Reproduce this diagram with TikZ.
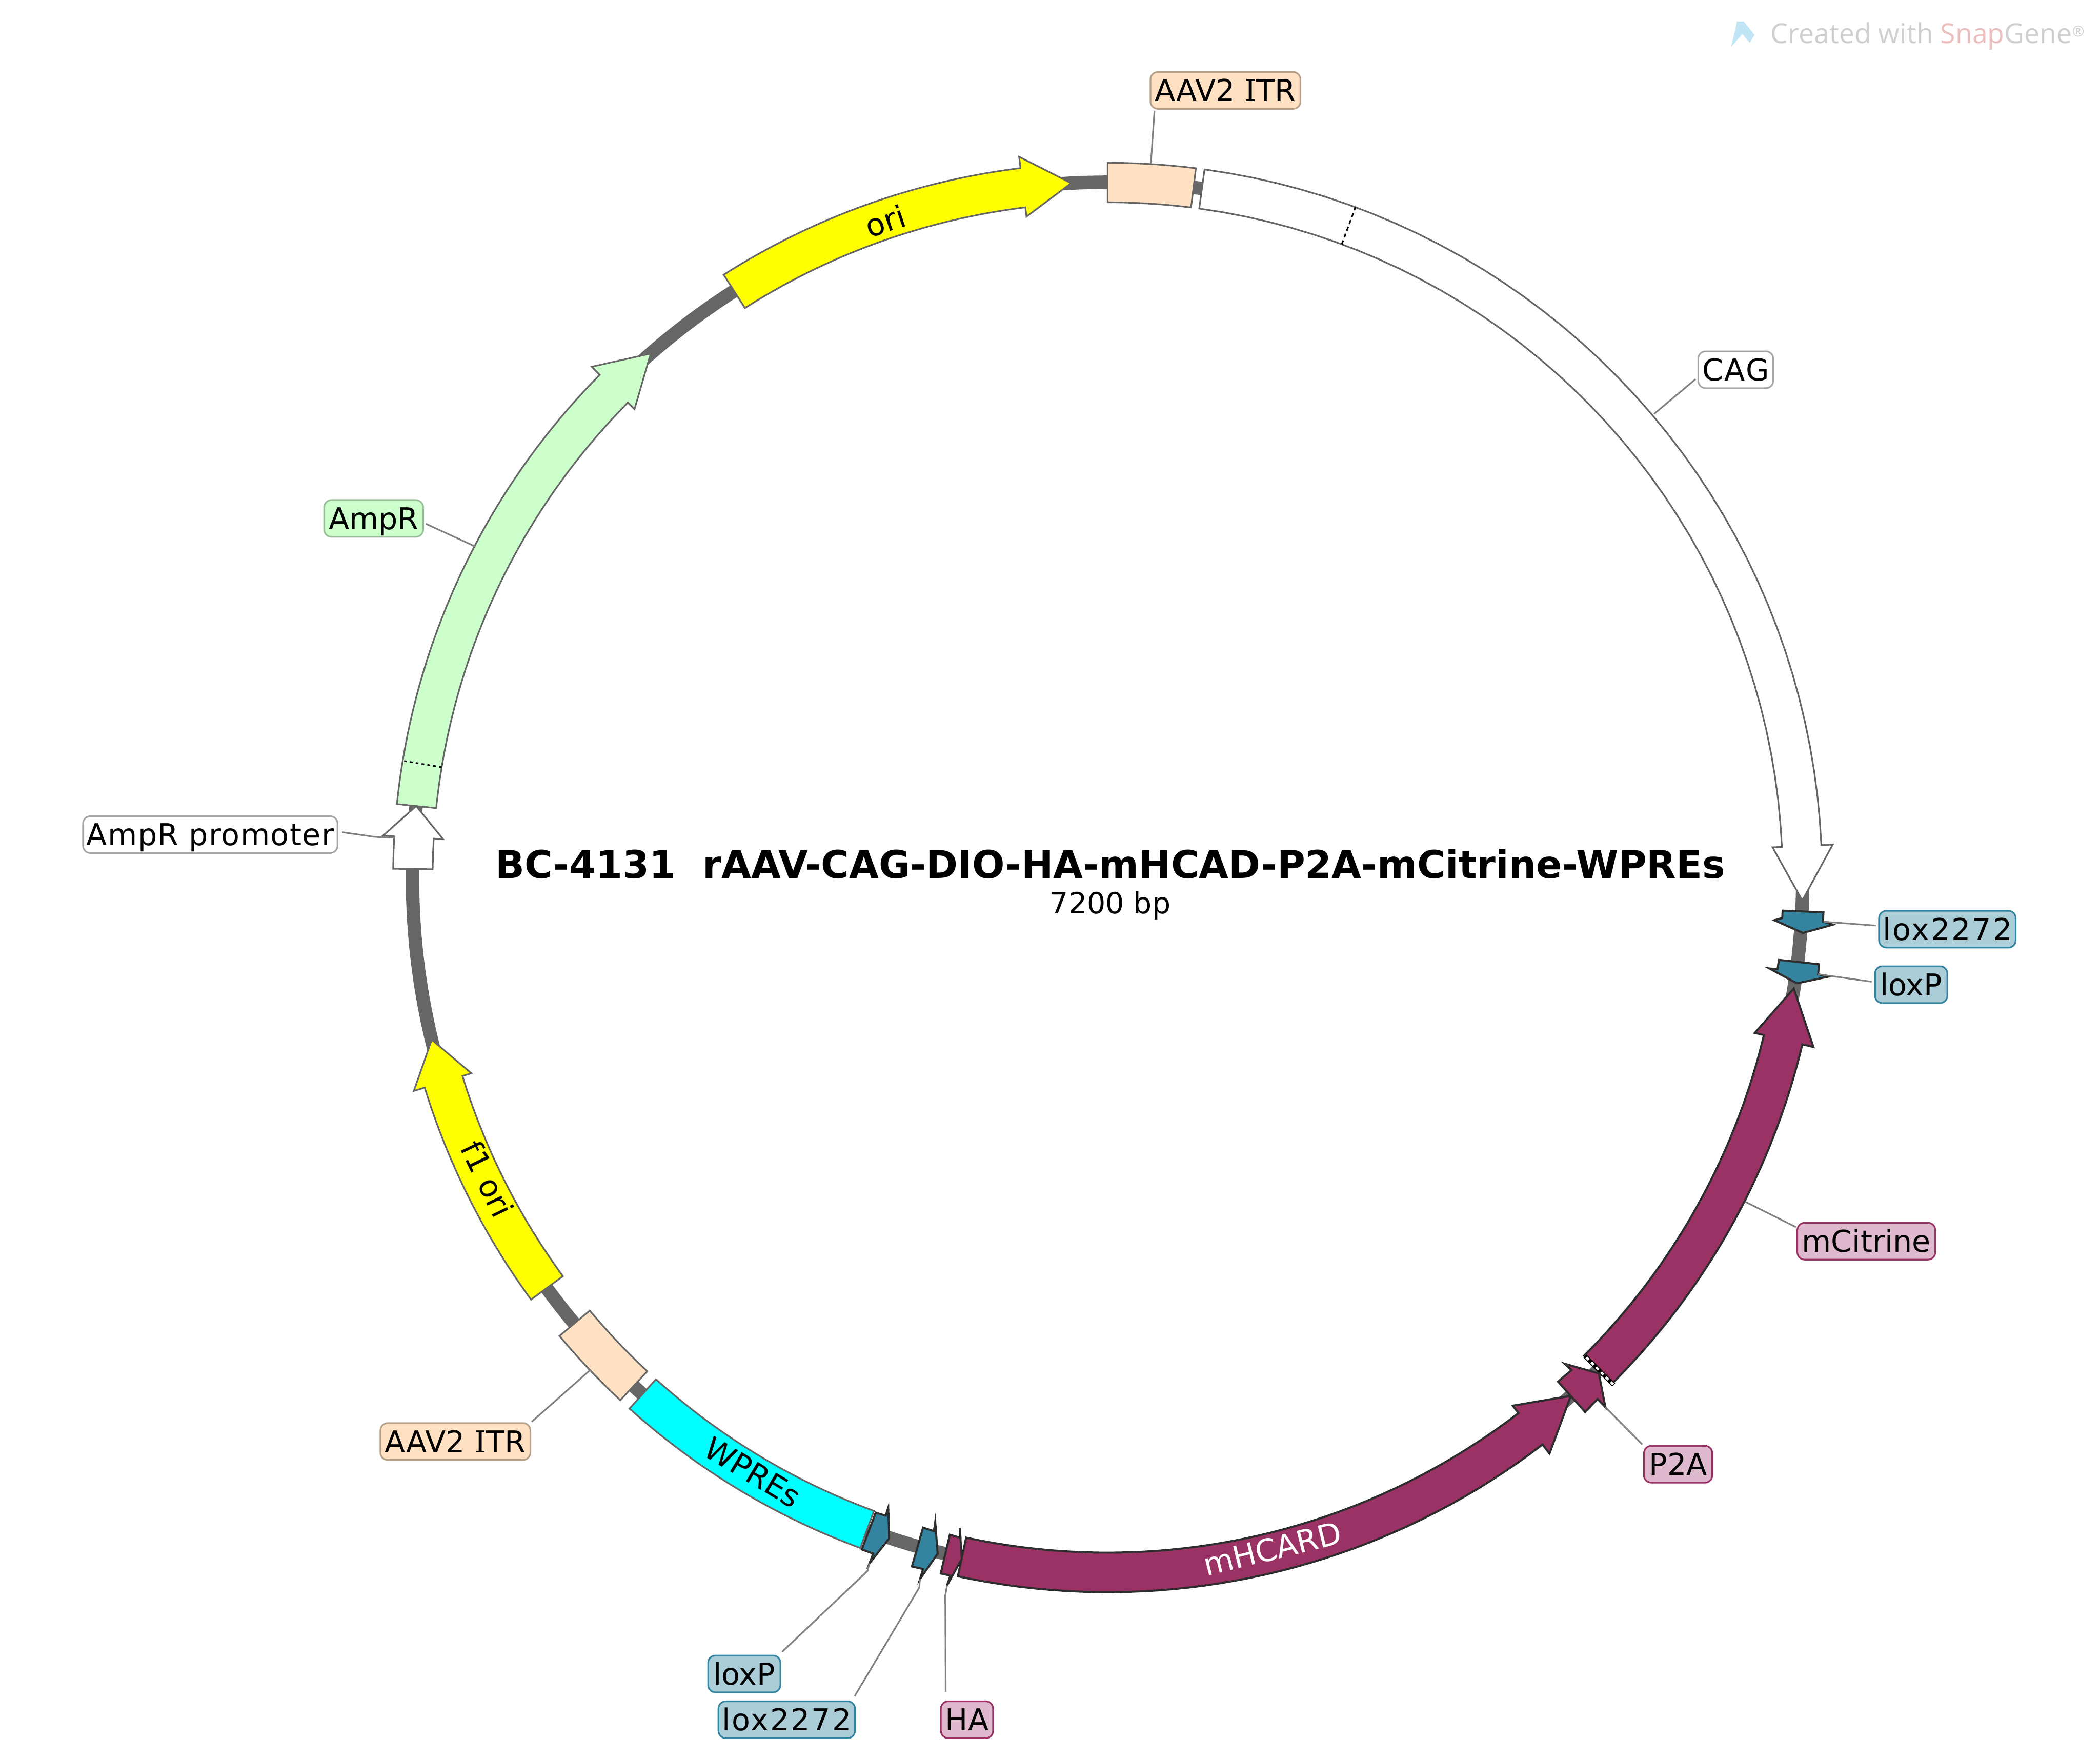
\documentclass[tikz,border=0pt]{standalone}
\usepackage{fontspec}
\setmainfont{DejaVu Sans}
\newfontfamily\serifI{DejaVu Serif}
\newfontfamily\wmfont{Open Sans}
\definecolor{bbgray}{HTML}{666666}
\definecolor{edgegray}{HTML}{666666}
\definecolor{edgedark}{HTML}{2D2D2D}
\definecolor{leadgray}{HTML}{808080}
\definecolor{plum}{HTML}{9B3265}
\definecolor{plumlt}{HTML}{DFB9CD}
\definecolor{teal}{HTML}{34839F}
\definecolor{teallt}{HTML}{ABCDD7}
\definecolor{itr}{HTML}{FFE2C4}
\definecolor{itrb}{HTML}{B8A088}
\definecolor{amp}{HTML}{CCFFCC}
\definecolor{ampb}{HTML}{99BF99}
\definecolor{fullyellow}{HTML}{FFFF00}
\definecolor{fullcyan}{HTML}{00FFFF}
\definecolor{logoblue}{HTML}{C0E6F5}
\definecolor{wmgray}{HTML}{CFCFCF}
\definecolor{wmred}{HTML}{EBBDBD}
\newcommand{\rout}{533.5}
\newcommand{\rin}{504}
\newcommand{\rmid}{519}
\newcommand{\hout}{542}
\newcommand{\hin}{497}
% style, start angle, base of head, tip
\newcommand{\farrow}[4]{\draw[#1] plot[domain=#2:#3,samples=41] (\x:\rout) -- (#3:\hout) -- (#4:\rmid) -- (#3:\hin) -- plot[domain=#3:#2,samples=41] (\x:\rin) -- cycle;}
\newcommand{\fseg}[3]{\draw[#1] plot[domain=#2:#3,samples=41] (\x:\rout) -- plot[domain=#3:#2,samples=41] (\x:\rin) -- cycle;}
\newcommand{\spaced}[2]{{\addfontfeature{LetterSpace=#1}#2}}
\tikzset{
  feat/.style={draw=edgegray,line width=1.2pt,line join=miter,miter limit=10},
  featdark/.style={draw=edgedark,line width=1.5pt,line join=miter,miter limit=10},
  leader/.style={draw=leadgray,line width=1.2pt},
  lab/.style={rounded corners=5.5pt,line width=1.2pt,inner sep=0pt,font=\fontsize{22.5}{26}\selectfont,text=black,text height=19.5pt,text depth=3.2pt,align=center,minimum height=27.5pt},
  labteal/.style={lab,draw=teal,fill=teallt},
  labplum/.style={lab,draw=plum,fill=plumlt},
  labitr/.style={lab,draw=itrb,fill=itr},
  ontrack/.style={font=\fontsize{23}{26}\selectfont,inner sep=0pt},
}
\begin{document}
\begin{tikzpicture}[x=1pt,y=-1pt]
\path[fill=white,use as bounding box] (0,0) rectangle (1568,1312);
% watermark
\fill[fill=logoblue] (1297,16) -- (1292.6,35) -- (1301,25.3) -- (1306.5,32) -- (1310,26) -- (1302,16) -- cycle;
\node[font=\wmfont\fontsize{20.5}{24}\selectfont,text=wmgray,inner sep=0pt,anchor=west] (wm) at (1322,27) {Created with \textcolor{wmred}{Snap}Gene\raisebox{5pt}{\fontsize{11}{12}\selectfont®}};
% circular map
\begin{scope}[shift={(827,655)},yscale=-1]
\draw[bbgray,line width=10pt] (0,0) circle[radius=519];
\farrow{feat,fill=white}{82.2}{2.6}{-1.9}
\draw[black,line width=1.2pt,dash pattern=on 3pt off 2.4pt] (69.7:\rin) -- (69.7:\rout);
\fseg{feat,fill=itr}{90}{82.9}
\farrow{feat,fill=fullyellow}{122.5}{97}{93}
\farrow{feat,fill=amp}{174.1}{135.3}{131.1}
\draw[black,line width=1.2pt,dash pattern=on 2pt off 2.4pt] (170.6:\rin) -- (170.6:\rout);
\farrow{feat,fill=white}{179.3}{176.7}{174.1}
\farrow{feat,fill=fullyellow}{216.2}{197.1}{193.5}
\fseg{feat,fill=itr}{219.9}{227}
\fseg{feat,fill=fullcyan}{228}{249.75}
\farrow{featdark,fill=plum}{257.9}{307.5}{311.8}
\farrow{featdark,fill=plum}{314.9}{346.5}{350.8}
\end{scope}
% start edge of mCitrine
\draw[black,line width=3.2pt] (1183.4,1012.2) -- (1204.9,1033.8);
\draw[white,line width=1.8pt,dash pattern=on 2.6pt off 2.6pt] (1184.4,1013.2) -- (1204.9,1033.8);
% small features
\draw[featdark,fill=plum] (1168.3,1018) -- (1173.4,1022.7) -- (1163.3,1031.3) -- (1183.5,1053.9) -- (1192.9,1044.3) -- (1198.7,1050.4) -- (1193.8,1025.2) -- cycle;
\draw[featdark,fill=teal] (643.5,1156.6) -- (653.9,1129.1) -- (661.3,1131.4) -- (663.2,1125.3) -- (663.9,1148.2) -- (649.2,1167) -- (652,1159.7) -- cycle;
\draw[featdark,fill=teal] (680.9,1169.3) -- (689.2,1140.3) -- (697.3,1142.9) -- (698.3,1136) -- (700.1,1159.7) -- (686.9,1178.8) -- (689.2,1171.2) -- cycle;
\draw[featdark,fill=plum] (702.4,1174.5) -- (709.2,1145.6) -- (717.2,1147.9) -- (716.6,1140.6) -- (718.1,1163.5) -- (707.1,1183.4) -- (709.6,1176.1) -- cycle;
\draw[featdark,fill=teal] (1331,679.7) -- (1361.5,681) -- (1361.1,687.8) -- (1368.6,690.2) -- (1346.2,696.4) -- (1324.8,686.9) -- (1330.7,685.3) -- cycle;
\draw[featdark,fill=teal] (1328.2,716.5) -- (1358.2,719.8) -- (1357.5,727.2) -- (1364.9,729.1) -- (1341.7,734) -- (1321.1,722.9) -- (1327.2,723.5) -- cycle;
% labels on the features
\node[ontrack,rotate=18.7] (tori) at (661,165) {ori};
\node[ontrack,rotate=-64.2] (tf1) at (364,880) {f1 ori};
\node[ontrack,rotate=-31] (twpre) at (562,1099) {WPREs};
\node[ontrack,rotate=13.8,text=white] (tcard) at (950,1156) {mHCARD};
% title
\node[font=\bfseries\fontsize{28.6}{32}\selectfont,inner sep=0pt] (title) at (829,645) {BC-4131\ \ rAAV-CAG-DIO-HA-mHCAD-P2A-mCitrine-WPREs};
\node[font=\fontsize{21.8}{26}\selectfont,inner sep=0pt] (bp) at (829,676) {7200 bp};
% callout labels
\node[labitr,minimum width=112pt] (itrtop) at (915,67.5) {AAV2 {\serifI I}TR};
\node[lab,draw=black!35,fill=white,minimum width=56pt] (cag) at (1296,276) {\spaced{4.4}{CAG}};
\node[lab,draw=ampb,fill=amp,minimum width=74pt] (ampr) at (279,387) {AmpR};
\node[lab,draw=black!35,fill=white,minimum width=190pt] (ampp) at (157,623) {\spaced{2.4}{AmpR promoter}};
\node[labteal,minimum width=102pt] (lox1) at (1454,693.6) {\spaced{5}{lox2272}};
\node[labteal,minimum width=54pt] (lp1) at (1427,735) {loxP};
\node[labplum,minimum width=103pt] (mcit) at (1393.5,926.5) {mCitrine};
\node[labplum,minimum width=51pt] (p2a) at (1253,1093) {P2A};
\node[labplum,minimum width=39pt] (ha) at (722,1283.7) {HA};
\node[labteal,minimum width=102pt] (lox2) at (587.4,1283.7) {\spaced{5}{lox2272}};
\node[labteal,minimum width=54pt] (lp2) at (555.7,1249.5) {loxP};
\node[labitr,minimum width=112pt] (itrlow) at (340,1076) {AAV2 {\serifI I}TR};
% leader end points
\coordinate (a1) at (862,82.6); \coordinate (a2) at (859.3,122);
\coordinate (c1) at (1266,283); \coordinate (c2) at (1235,309);
\coordinate (r1) at (318,391); \coordinate (r2) at (355,408);
\coordinate (p1) at (255.4,621.2); \coordinate (p2) at (280,624.7); \coordinate (p3) at (295,625.4);
\coordinate (x1) at (1400.7,690.9); \coordinate (x2) at (1361.6,688);
\coordinate (y1) at (1397.5,732.8); \coordinate (y2) at (1357.5,727.2);
\coordinate (m1) at (1341,916); \coordinate (m2) at (1303,897);
\coordinate (q1) at (1226.2,1078.2); \coordinate (q2) at (1198.7,1050.4);
\coordinate (h1) at (706.1,1262.8); \coordinate (h2) at (705.8,1191); \coordinate (h3) at (707.1,1183.4);
\coordinate (u1) at (638.2,1266); \coordinate (u2) at (686.4,1185); \coordinate (u3) at (686.9,1178.8);
\coordinate (v1) at (584,1233); \coordinate (v2) at (647.7,1172.7); \coordinate (v3) at (649.2,1167);
\coordinate (w1) at (397,1061.3); \coordinate (w2) at (440.6,1022.7);
\draw[leader] (a1) -- (a2);
\draw[leader] (c1) -- (c2);
\draw[leader] (r1) -- (r2);
\draw[leader] (p1) -- (p2) -- (p3);
\draw[leader] (x1) -- (x2);
\draw[leader] (y1) -- (y2);
\draw[leader] (m1) -- (m2);
\draw[leader] (q1) -- (q2);
\draw[leader] (h1) -- (h2) -- (h3);
\draw[leader] (u1) -- (u2) -- (u3);
\draw[leader] (v1) -- (v2) -- (v3);
\draw[leader] (w1) -- (w2);
\end{tikzpicture}
\end{document}
